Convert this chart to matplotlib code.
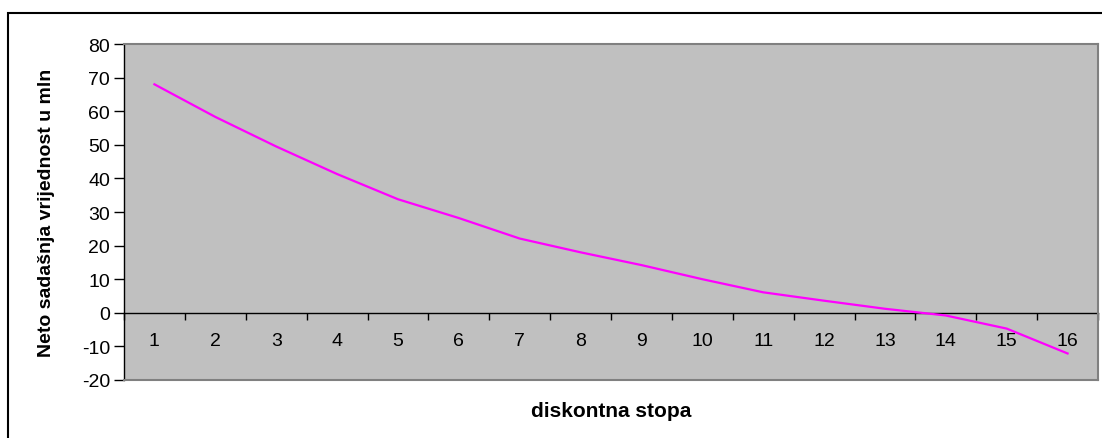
import matplotlib
matplotlib.use("Agg")
import matplotlib.pyplot as plt
from matplotlib.patches import Rectangle
from matplotlib.ticker import MultipleLocator

plt.rcParams['font.family'] = ['Liberation Sans', 'DejaVu Sans']
plt.rcParams['axes.unicode_minus'] = False

# discount rate categories and net present value (mln)
rates = list(range(1, 17))
npv = [68.0, 58.3, 49.5, 41.3, 33.8, 28.2, 22.1, 18.0,
       14.2, 10.0, 6.1, 3.6, 1.2, -0.8, -4.7, -12.1]

fig = plt.figure(figsize=(11.02, 4.39), dpi=100)
ax = fig.add_axes([124 / 1102, 1 - 381 / 439, (1098 - 124) / 1102, (381 - 45) / 439])

ax.set_facecolor('#c0c0c0')
ax.plot(rates, npv, color='#ff00ff', lw=1.6)

ax.set_xlim(0.5, 16.5)
ax.set_ylim(-20, 80)
ax.yaxis.set_major_locator(MultipleLocator(10))
ax.tick_params(axis='y', direction='out', length=7, width=1, labelsize=14, pad=3)
ax.set_xticks([])

for side in ('top', 'right', 'bottom'):
    ax.spines[side].set_color('#808080')
    ax.spines[side].set_linewidth(1.5)
ax.spines['left'].set_color('black')
ax.spines['left'].set_linewidth(1)

# category axis crossing at y = 0
sec = ax.secondary_xaxis(0.2)
sec.set_xticks(rates)
sec.set_xticks([r + 0.5 for r in range(0, 17)], minor=True)
sec.tick_params(axis='x', which='major', length=0, labelsize=14, pad=14)
sec.tick_params(axis='x', which='minor', length=5, width=1, direction='out')
sec.spines['bottom'].set_color('black')
sec.spines['bottom'].set_linewidth(1)

ax.set_ylabel('Neto sadašnja vrijednost u mln', fontsize=14, fontweight='bold', labelpad=19)
fig.text(611 / 1102, 1 - 412 / 439, 'diskontna stopa', fontsize=15, fontweight='bold',
         ha='center', va='center')

# outer chart border
fig.patches.append(Rectangle((8 / 1102, -0.1), 1.2, 1 - 14 / 439 + 0.1, transform=fig.transFigure,
                             fill=False, edgecolor='black', lw=1.5))

fig.savefig('out.png', dpi=100)
